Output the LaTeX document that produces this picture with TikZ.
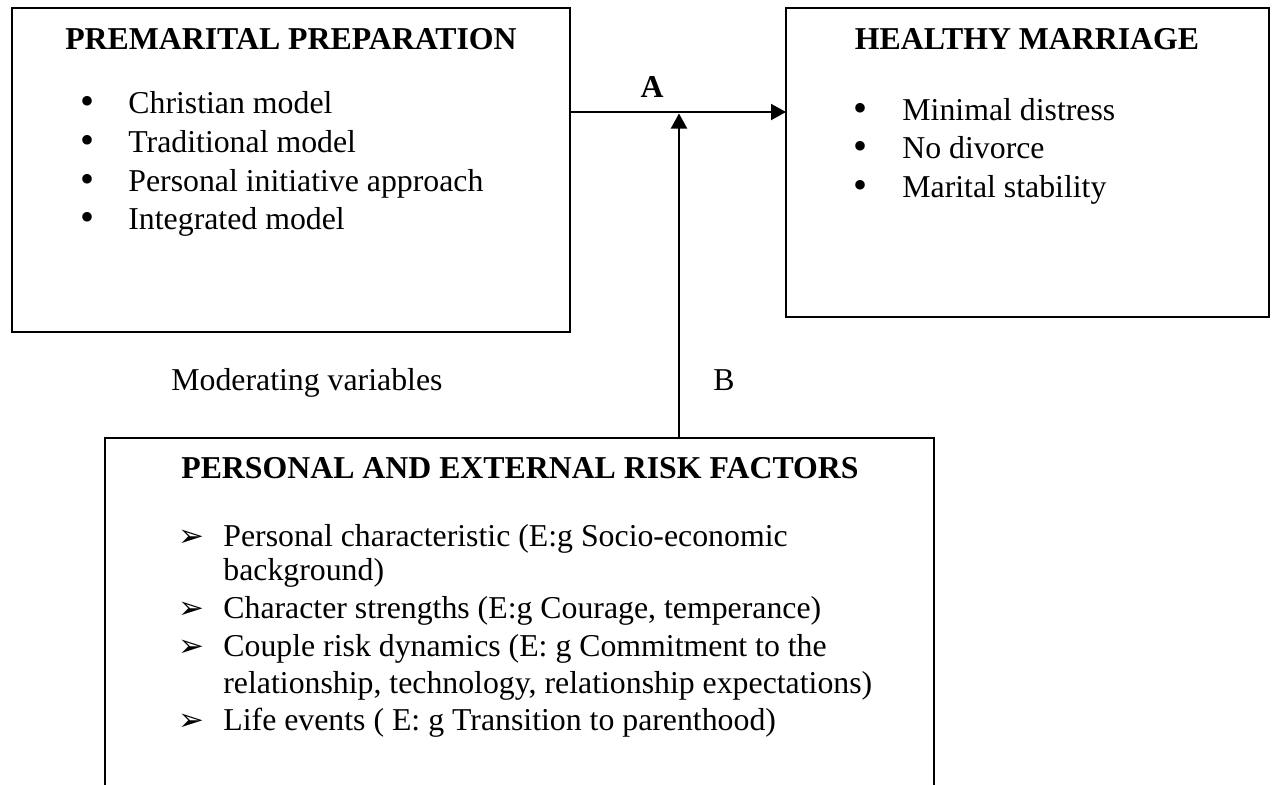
\documentclass[tikz,border=0pt]{standalone}
\usepackage{fontspec}
\setmainfont{Liberation Serif}
\newfontfamily\dejavu{DejaVu Sans}
\usetikzlibrary{arrows.meta,calc}
\begin{document}
\begin{tikzpicture}[x=0.5pt,y=-0.5pt,
  box/.style={draw,line width=1.2pt,inner sep=0,outer sep=0,anchor=north west},
  txt/.style={anchor=base west,inner sep=0,font=\fontsize{15.9}{19}\selectfont},
  ttl/.style={anchor=base,inner sep=0,font=\fontsize{15.9}{19}\selectfont\bfseries},
  bul/.style={anchor=base,inner sep=0,font=\fontsize{15.9}{19}\selectfont},
  dot/.style={anchor=base,inner sep=0,font=\fontsize{20}{19}\selectfont},
  abul/.style={anchor=base west,inner sep=0,font=\fontsize{15.5}{19}\dejavu},
  arr/.style={line width=1pt,-{Triangle[length=7.5pt,width=8pt]}}]
\useasboundingbox (0,0) rectangle (1275,784);
\clip (0,0) rectangle (1275,784);
% boxes
\node[box,minimum width=279pt,minimum height=162pt] (b1) at (12,8) {};
\node[box,minimum width=241.5pt,minimum height=154.5pt] (b2) at (786,8) {};
\node[box,minimum width=414.5pt,minimum height=200pt] (b3) at (105,438) {};
% connectors
\coordinate (j) at (679,112);
\coordinate (jt) at (679,113.5);
\draw[arr] (b1.east |- j) -- (b2.west |- j);
\draw[arr] (b3.north -| j) -- (jt);
\node[ttl] (la) at (652,97) {A};
\node[bul] (lb) at (724,390) {B};
\node[txt] (mv) at (171,390) {Moderating variables};
% box 1
\node[ttl] (t1) at (291,49) {PREMARITAL PREPARATION};
\foreach \y/\t [count=\i] in {113/Christian model,152/Traditional model,191/Personal initiative approach,229/Integrated model}{
  \node[dot] (p\i b) at (88,\y+1) {\textbullet};
  \node[txt] (p\i) at (128,\y) {\t};
}
% box 2
\node[ttl] (t2) at (1027,49) {HEALTHY MARRIAGE};
\foreach \y/\t [count=\i] in {120/Minimal distress,158/No divorce,197/Marital stability}{
  \node[dot] (h\i b) at (860,\y+1) {\textbullet};
  \node[txt] (h\i) at (902,\y) {\t};
}
% box 3
\node[ttl] (t3) at (520,478) {PERSONAL AND EXTERNAL RISK FACTORS};
\node[abul] (r1b) at (178,546) {➢};
\node[abul] (r2b) at (178,618) {➢};
\node[abul] (r3b) at (178,656) {➢};
\node[abul] (r4b) at (178,730) {➢};
\node[txt] (r1) at (223,546) {Personal characteristic (E:g Socio-economic};
\node[txt] (r1c) at (223,580) {background)};
\node[txt] (r2) at (223,618) {Character strengths (E:g Courage, temperance)};
\node[txt] (r3) at (223,656) {Couple risk dynamics (E: g Commitment to the};
\node[txt] (r3c) at (223,693) {relationship, technology, relationship expectations)};
\node[txt] (r4) at (223,730) {Life events ( E: g Transition to parenthood)};
\end{tikzpicture}
\end{document}
